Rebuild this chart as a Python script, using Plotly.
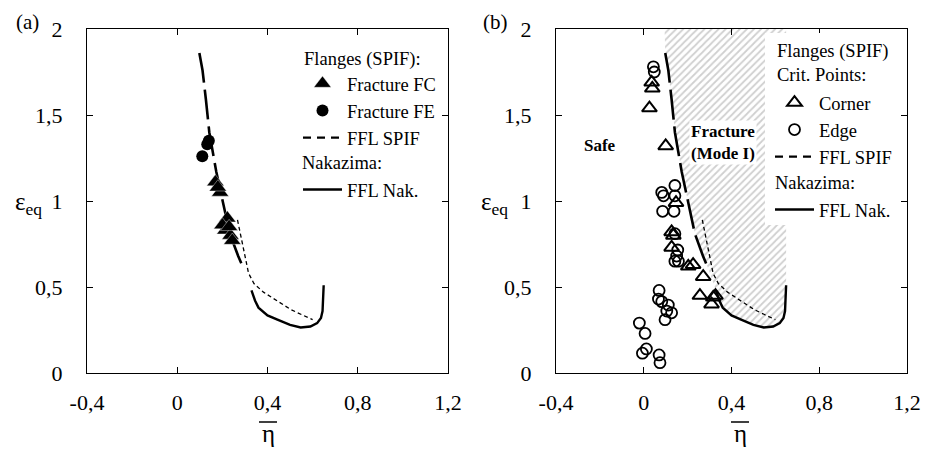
import plotly.graph_objects as go

# ---------------- data ----------------
x_ticks = [-0.4, 0, 0.4, 0.8, 1.2]
x_tick_labels = ["-0,4", "0", "0,4", "0,8", "1,2"]
y_ticks = [0, 0.5, 1, 1.5, 2]
y_tick_labels = ["0", "0,5", "1", "1,5", "2"]

# long-dash fracture line (upper branch)
long_x = [0.098, 0.112, 0.127, 0.142, 0.173, 0.203, 0.233, 0.270, 0.290]
long_y = [1.86, 1.76, 1.59, 1.40, 1.17, 0.98, 0.81, 0.68, 0.62]

# FFL Nakazima (solid)
nak_x = [0.329, 0.345, 0.360, 0.400, 0.444, 0.500, 0.547, 0.590, 0.620, 0.637, 0.644, 0.649]
nak_y = [0.48, 0.42, 0.38, 0.335, 0.31, 0.28, 0.265, 0.27, 0.29, 0.32, 0.36, 0.51]

# FFL SPIF (thin dashed)
spif_x = [0.267, 0.280, 0.293, 0.305, 0.316, 0.340, 0.382, 0.440, 0.502, 0.550, 0.600]
spif_y = [0.89, 0.80, 0.73, 0.65, 0.58, 0.52, 0.47, 0.42, 0.37, 0.34, 0.31]

# panel (a) fracture points
fc_x = [0.169, 0.190, 0.180, 0.222, 0.213, 0.236, 0.244, 0.200, 0.230]
fc_y = [1.11, 1.05, 1.08, 0.90, 0.83, 0.80, 0.77, 0.86, 0.85]
fe_x = [0.111, 0.133, 0.140]
fe_y = [1.26, 1.33, 1.35]

# panel (b) critical points
corner_x = [0.036, 0.039, 0.026, 0.100, 0.147, 0.127, 0.135, 0.127, 0.203, 0.225,
            0.271, 0.256, 0.309, 0.317, 0.327]
corner_y = [1.69, 1.655, 1.54, 1.32, 0.99, 0.82, 0.80, 0.73, 0.62, 0.63,
            0.56, 0.45, 0.40, 0.44, 0.45]
edge_x = [0.044, 0.048, 0.082, 0.090, 0.142, 0.142, 0.086, 0.138, 0.142, 0.155,
          0.150, 0.158, 0.142, 0.070, 0.067, 0.082, 0.112, 0.105, 0.127, 0.097,
          -0.020, 0.006, -0.006, 0.012, 0.070, 0.074]
edge_y = [1.78, 1.75, 1.05, 1.03, 1.09, 1.03, 0.94, 0.94, 0.81, 0.715,
          0.68, 0.65, 0.65, 0.48, 0.43, 0.415, 0.395, 0.36, 0.35, 0.31,
          0.29, 0.23, 0.115, 0.14, 0.105, 0.06]

region_top = 2.0

W, H = 925, 452
def px(v):
    return v / W
def py(v):
    return 1 - v / H

SERIF = "Times New Roman, Liberation Serif, DejaVu Serif, serif"

fig = go.Figure()

# ---------- panel (a) ----------
fig.add_trace(go.Scatter(x=long_x, y=long_y, mode="lines", showlegend=False,
                         line=dict(color="black", width=2.6, dash="30px,7px"),
                         xaxis="x", yaxis="y"))
fig.add_trace(go.Scatter(x=nak_x, y=nak_y, mode="lines", name="FFL Nak.",
                         line=dict(color="black", width=2.4),
                         xaxis="x", yaxis="y", legend="legend3"))
fig.add_trace(go.Scatter(x=spif_x, y=spif_y, mode="lines", showlegend=False,
                         line=dict(color="black", width=1.3, dash="4px,3px"),
                         xaxis="x", yaxis="y"))
fig.add_trace(go.Scatter(x=fc_x, y=fc_y, mode="markers", name="Fracture FC",
                         legendrank=1,
                         marker=dict(symbol="triangle-up", size=15, color="black",
                                     line=dict(color="white", width=0.4)),
                         xaxis="x", yaxis="y", legend="legend"))
fig.add_trace(go.Scatter(x=fe_x, y=fe_y, mode="markers", name="Fracture FE",
                         legendrank=2,
                         marker=dict(symbol="circle", size=12, color="black"),
                         xaxis="x", yaxis="y", legend="legend"))
fig.add_trace(go.Scatter(x=[None], y=[None], mode="lines", name="FFL SPIF",
                         legendrank=3,
                         line=dict(color="black", width=2.4, dash="8px,6px"),
                         xaxis="x", yaxis="y", legend="legend"))

# ---------- panel (b) ----------
reg_x = [long_x[0] - 0.003] + long_x + nak_x + [nak_x[-1]]
reg_y = [region_top] + long_y + nak_y + [region_top]
fig.add_trace(go.Scatter(x=reg_x, y=reg_y, mode="lines", fill="toself", showlegend=False,
                         line=dict(width=0, color="rgba(0,0,0,0)"),
                         fillcolor="white",
                         fillpattern=dict(shape="/", fgcolor="#a0a0a0", bgcolor="white",
                                          size=5, solidity=0.35),
                         hoverinfo="skip", xaxis="x2", yaxis="y2"))
fig.add_trace(go.Scatter(x=long_x, y=long_y, mode="lines", showlegend=False,
                         line=dict(color="black", width=2.6, dash="30px,7px"),
                         xaxis="x2", yaxis="y2"))
fig.add_trace(go.Scatter(x=nak_x, y=nak_y, mode="lines", name="FFL Nak.",
                         line=dict(color="black", width=2.4),
                         xaxis="x2", yaxis="y2", legend="legend4"))
fig.add_trace(go.Scatter(x=spif_x, y=spif_y, mode="lines", showlegend=False,
                         line=dict(color="black", width=1.3, dash="4px,3px"),
                         xaxis="x2", yaxis="y2"))
fig.add_trace(go.Scatter(x=corner_x, y=corner_y, mode="markers", name="Corner",
                         legendrank=1,
                         marker=dict(symbol="triangle-up-open", size=13, color="black",
                                     line=dict(width=2)),
                         xaxis="x2", yaxis="y2", legend="legend2"))
fig.add_trace(go.Scatter(x=edge_x, y=edge_y, mode="markers", name="Edge",
                         legendrank=2,
                         marker=dict(symbol="circle-open", size=11, color="black",
                                     line=dict(width=1.8)),
                         xaxis="x2", yaxis="y2", legend="legend2"))
fig.add_trace(go.Scatter(x=[None], y=[None], mode="lines", name="FFL SPIF",
                         legendrank=3,
                         line=dict(color="black", width=2.4, dash="8px,6px"),
                         xaxis="x2", yaxis="y2", legend="legend2"))

axis_common = dict(range=[-0.4, 1.2], tickvals=x_ticks, ticktext=x_tick_labels,
                   showline=True, linecolor="black", linewidth=1, mirror="ticks",
                   ticks="inside", ticklen=6, tickcolor="black", showgrid=False,
                   zeroline=False, tickfont=dict(family=SERIF, size=22, color="black"),
                   ticklabelstandoff=10, automargin=False, ticklabeloverflow="allow")
yaxis_common = dict(range=[0, 2], tickvals=y_ticks, ticktext=y_tick_labels,
                    showline=True, linecolor="black", linewidth=1, mirror="ticks",
                    ticks="inside", ticklen=6, tickcolor="black", showgrid=False,
                    zeroline=False, tickfont=dict(family=SERIF, size=22, color="black"),
                    ticklabelstandoff=19, automargin=False, ticklabeloverflow="allow")

ydom = [py(373), py(29)]
legend_common = dict(font=dict(family=SERIF, size=18.5, color="black"),
                     traceorder="normal", tracegroupgap=0, xanchor="left", yanchor="top",
                     borderwidth=0, itemwidth=39, bgcolor="rgba(0,0,0,0)")

fig.update_layout(
    width=W, height=H, margin=dict(l=0, r=0, t=0, b=0, autoexpand=False),
    paper_bgcolor="white", plot_bgcolor="white",
    font=dict(family=SERIF, color="black"),
    xaxis=dict(domain=[px(87), px(448)], anchor="y", **axis_common),
    yaxis=dict(domain=ydom, anchor="x", **yaxis_common),
    xaxis2=dict(domain=[px(556), px(907)], anchor="y2", **axis_common),
    yaxis2=dict(domain=ydom, anchor="x2", **yaxis_common),
    legend=dict(x=px(298), y=py(65), **legend_common),
    legend3=dict(x=px(298), y=py(171), **legend_common),
    legend2=dict(x=px(770), y=py(84), **legend_common),
    legend4=dict(x=px(770), y=py(191), **legend_common),
)

# white box behind legend of panel (b)
fig.add_shape(type="rect", xref="paper", yref="paper", layer="above",
              x0=px(765), x1=px(899), y0=py(225), y1=py(33),
              fillcolor="white", line=dict(width=0))

annots = [
    dict(text="(a)", x=px(27), y=py(22)),
    dict(text="(b)", x=px(495), y=py(22)),
    dict(text="ε<sub>eq</sub>", x=px(28), y=py(203), size=25),
    dict(text="ε<sub>eq</sub>", x=px(494), y=py(203), size=25),
    dict(text="η", x=px(268), y=py(433), size=25),
    dict(text="η", x=px(740), y=py(433), size=25),
]
for a in annots:
    fig.add_annotation(text=a["text"], x=a["x"], y=a["y"], xref="paper", yref="paper",
                       showarrow=False, xanchor="center", yanchor="middle",
                       font=dict(family=SERIF, size=a.get("size", 21), color="black"))

# legend headers
headers = [
    ("Flanges (SPIF):", 302, 60),
    ("Nakazima:", 300, 163),
    ("Flanges (SPIF)", 775, 52),
    ("Crit. Points:", 775, 75),
    ("Nakazima:", 773, 183),
]
for txt, hx, hy in headers:
    fig.add_annotation(text=txt, x=px(hx), y=py(hy), xref="paper", yref="paper",
                       showarrow=False, xanchor="left", yanchor="middle",
                       font=dict(family=SERIF, size=18.5, color="black"))

# overlines of eta
for cx in (268, 740):
    fig.add_shape(type="line", xref="paper", yref="paper",
                  x0=px(cx - 9), x1=px(cx + 9), y0=py(422), y1=py(422),
                  line=dict(color="black", width=1.5))

fig.add_annotation(text="<b>Safe</b>", x=-0.2, y=1.32, xref="x2", yref="y2",
                   showarrow=False, font=dict(family=SERIF, size=17, color="black"))
fig.add_annotation(text="<b>Fracture<br>(Mode I)</b>", x=0.36, y=1.34, xref="x2", yref="y2",
                   showarrow=False, bgcolor="white",
                   font=dict(family=SERIF, size=17, color="black"))

# remove the default 8px page margin so the 925x452 figure fills the window
fig.write_html("out.html",
               config={"displayModeBar": False},
               post_script="document.body.style.margin='0';"
                           "document.body.style.overflow='hidden';")
